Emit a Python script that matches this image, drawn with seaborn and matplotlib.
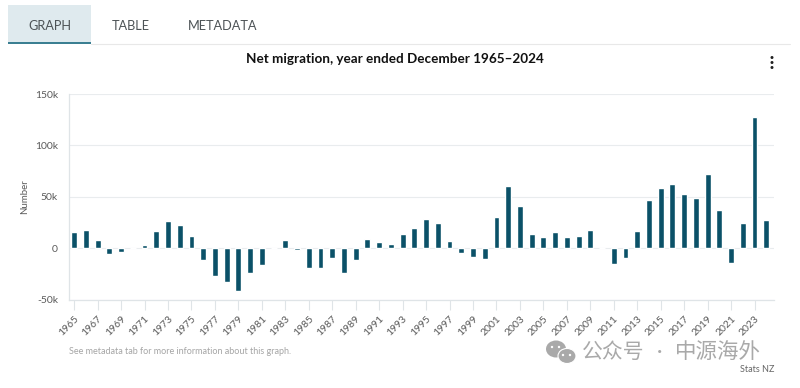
import matplotlib
matplotlib.use("Agg")
import matplotlib.pyplot as plt
from matplotlib.patches import Rectangle, Ellipse
import seaborn as sns
import pandas as pd

years = list(range(1965, 2025))
net_migration = [15.5, 17.5, 8, -6, -3.5, 0, 3, 17, 26, 22.5, 12, -12, -27, -33, -42, -24, -16, 0, 8, -2,
                 -19, -19, -10, -24, -12, 9, 5.5, 4, 14, 20, 28.5, 24, 7, -5, -9, -11, 30, 60, 41, 13.5,
                 10.5, 16, 10.5, 12, 18, 0, -15, -9.5, 17, 47, 59, 62.5, 53, 49, 72, 37, -14, 24, 127.5, 27]
y_ticks = [-50, 0, 50, 100, 150]
y_labels = ["-50k", "0", "50k", "100k", "150k"]
tabs = ["GRAPH", "TABLE", "METADATA"]
title = "Net migration, year ended December 1965\u20132024"

W, H = 800, 388
sns.set_theme(style="white")
plt.rcParams['font.family'] = ['Lato', 'Noto Sans CJK SC', 'DejaVu Sans']

fig = plt.figure(figsize=(W / 100, H / 100), dpi=100, facecolor="white")
def fx(p): return p / W
def fy(p): return 1 - p / H

ax = fig.add_axes([fx(69), fy(299.5), fx(774) - fx(69), fy(94) - fy(299.5)])
df = pd.DataFrame({"year": years, "value": net_migration})
sns.barplot(data=df, x="year", y="value", color="#0b5168", saturation=1, width=0.5, ax=ax, zorder=3)
ax.set_xlim(-0.44, 59.66)
ax.set_ylim(-50, 150)
ax.set_yticks(y_ticks)
ax.set_yticklabels(y_labels, fontsize=7.5, color="#5a5a5a")
ax.set_xticks(range(0, 60, 2))
ax.set_xticklabels(years[::2], rotation=45, ha="right", rotation_mode="anchor", fontsize=7.5, color="#5a5a5a")
ax.tick_params(axis="x", length=7, width=0.8, color="#dfe4e7", pad=3.5, bottom=True)
ax.tick_params(axis="y", length=0, pad=8)
ax.grid(axis="y", color="#e9ecee", lw=0.8, zorder=0)
for s in ("top", "right"):
    ax.spines[s].set_visible(False)
for s in ("left", "bottom"):
    ax.spines[s].set_color("#dfe4e7")
    ax.spines[s].set_linewidth(0.9)
ax.set_xlabel("")
ax.set_ylabel("Number", fontsize=7, color="#5a5a5a")
ax.yaxis.set_label_coords((25 - 69 + 4) / 705, 0.5)

# Tabs
fig.add_artist(Rectangle((fx(8), fy(43)), fx(83), 38 / H, transform=fig.transFigure, fc="#dfeaee", ec="none"))
fig.add_artist(Rectangle((fx(8), fy(44)), fx(83), 1.8 / H, transform=fig.transFigure, fc="#3b7f92", ec="none"))
fig.add_artist(plt.Line2D([fx(91), fx(790)], [fy(44), fy(44)], color="#e8e8e8", lw=0.8))
for t, xc in zip(tabs, [50, 131, 222.5]):
    fig.text(fx(xc), fy(25.5), t, ha="center", va="center", fontsize=9.2, color="#4d5356")

fig.text(fx(395), fy(59), title, ha="center", va="center", fontsize=9.7, fontweight="bold", color="#111111")
for py in (57.5, 62.5, 67.5):
    fig.add_artist(Ellipse((fx(772), fy(py)), 3 / W, 3 / H, transform=fig.transFigure, fc="#222222", ec="none"))

fig.text(fx(69), fy(352), "See metadata tab for more information about this graph.", ha="left", va="center",
         fontsize=6.5, color="#a5a5a5")
fig.text(fx(774), fy(370), "Stats NZ", ha="right", va="center", fontsize=6.5, color="#666666")

# Watermark
fig.add_artist(Ellipse((fx(556), fy(349)), 20 / W, 17 / H, transform=fig.transFigure, fc="#a9a9a9", ec="none"))
fig.add_artist(Ellipse((fx(567), fy(356)), 18 / W, 15 / H, transform=fig.transFigure, fc="#a9a9a9", ec="white", lw=0.8))
for ex, ey in [(552, 347), (559, 347), (563, 355), (570, 355)]:
    fig.add_artist(Ellipse((fx(ex), fy(ey)), 2.4 / W, 2.4 / H, transform=fig.transFigure, fc="white", ec="none"))
fig.text(fx(582), fy(352), "\u516c\u4f17\u53f7", ha="left", va="center",
         fontsize=15, color="#a9a9a9", family=['Noto Sans CJK SC', 'DejaVu Sans'])
fig.text(fx(660), fy(352), "\u00b7", ha="center", va="center", fontsize=15, color="#a9a9a9")
fig.text(fx(675), fy(352), "\u4e2d\u6e90\u6d77\u5916", ha="left", va="center",
         fontsize=15.5, color="#a9a9a9", family=['Noto Sans CJK SC', 'DejaVu Sans'])

fig.savefig("out.png", dpi=100)
